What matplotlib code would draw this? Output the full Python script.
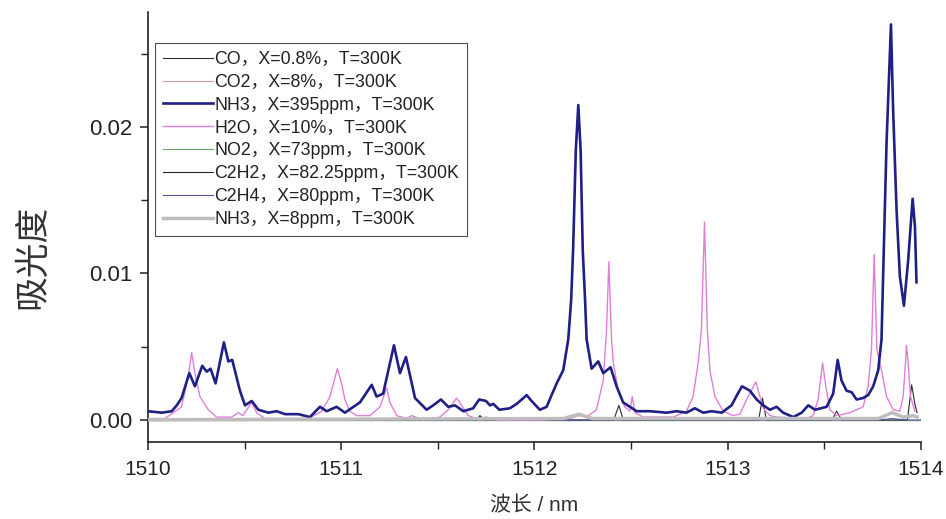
import matplotlib
matplotlib.use('Agg')
import matplotlib.pyplot as plt
from matplotlib.ticker import MultipleLocator

plt.rcParams['font.family'] = ['Liberation Sans', 'Noto Sans CJK SC']

labels = ['CO，X=0.8%，T=300K', 'CO2，X=8%，T=300K', 'NH3，X=395ppm，T=300K',
          'H2O，X=10%，T=300K', 'NO2，X=73ppm，T=300K', 'C2H2，X=82.25ppm，T=300K',
          'C2H4，X=80ppm，T=300K', 'NH3，X=8ppm，T=300K']

# near-zero gases
co_x = [1510.0, 1514.0]
co_y = [0.0, 0.0]
co2_x = [1510.0, 1514.0]
co2_y = [0.0, 0.0]
no2_x = [1510.0, 1514.0]
no2_y = [0.0, 0.0]

nh3_x = [1510.00, 1510.071, 1510.123, 1510.149, 1510.174, 1510.214, 1510.243, 1510.281,
         1510.304, 1510.324, 1510.350, 1510.393, 1510.416, 1510.436, 1510.476, 1510.502,
         1510.537, 1510.571, 1510.623, 1510.666, 1510.709, 1510.778, 1510.838, 1510.890,
         1510.925, 1510.976, 1511.019, 1511.097, 1511.158, 1511.183, 1511.217, 1511.273,
         1511.304, 1511.335, 1511.382, 1511.442, 1511.476, 1511.516, 1511.554, 1511.589,
         1511.632, 1511.683, 1511.714, 1511.749, 1511.770, 1511.787, 1511.818, 1511.873,
         1511.908, 1511.960, 1511.985, 1512.028, 1512.063, 1512.115, 1512.149, 1512.175,
         1512.190, 1512.200, 1512.214, 1512.227, 1512.239, 1512.250, 1512.262, 1512.270,
         1512.296, 1512.330,
         1512.356, 1512.394, 1512.425, 1512.459, 1512.494, 1512.529, 1512.598, 1512.684,
         1512.736, 1512.787, 1512.830, 1512.874, 1512.917, 1512.969, 1513.020, 1513.048,
         1513.074, 1513.115, 1513.150, 1513.184, 1513.219, 1513.253, 1513.287, 1513.339,
         1513.383, 1513.417, 1513.452, 1513.512, 1513.546, 1513.569, 1513.589, 1513.615,
         1513.641, 1513.667, 1513.701, 1513.727, 1513.753, 1513.779, 1513.796, 1513.813,
         1513.822, 1513.845, 1513.856, 1513.874, 1513.891, 1513.912, 1513.934, 1513.957,
         1513.969, 1513.977]
nh3_y = [0.0006, 0.0005, 0.0006, 0.0010, 0.0015, 0.0032, 0.0023, 0.0037,
         0.0033, 0.0035, 0.0025, 0.0053, 0.0040, 0.0041, 0.0020, 0.0010,
         0.0013, 0.0007, 0.0005, 0.0006, 0.0004, 0.0004, 0.0002, 0.0009,
         0.0006, 0.0009, 0.0005, 0.0012, 0.0024, 0.0016, 0.0018, 0.0051,
         0.0032, 0.0043, 0.0015, 0.0007, 0.0010, 0.0014, 0.0009, 0.0010,
         0.0006, 0.0008, 0.0014, 0.0013, 0.0010, 0.0011, 0.0007, 0.0008,
         0.0011, 0.0017, 0.0013, 0.0007, 0.0009, 0.0025, 0.0034, 0.0055,
         0.0082, 0.0116, 0.0184, 0.0215, 0.0184, 0.0116, 0.0082, 0.0055,
         0.0035, 0.0040,
         0.0032, 0.0036, 0.0023, 0.0012, 0.0009, 0.0006, 0.0006, 0.0005,
         0.0006, 0.0005, 0.0008, 0.0005, 0.0006, 0.0005, 0.0010, 0.0017,
         0.0023, 0.0020, 0.0014, 0.0010, 0.0007, 0.0009, 0.0005, 0.0002,
         0.0005, 0.0010, 0.0007, 0.0009, 0.0018, 0.0041, 0.0027, 0.0020,
         0.0019, 0.0014, 0.0015, 0.0017, 0.0023, 0.0034, 0.0055, 0.0143,
         0.0189, 0.0270, 0.0212, 0.0143, 0.0098, 0.0078, 0.0109, 0.0151,
         0.0132, 0.0094]

h2o_x = [1510.000, 1510.088, 1510.174, 1510.209, 1510.226, 1510.243, 1510.269, 1510.312,
         1510.355, 1510.433, 1510.467, 1510.491, 1510.537, 1510.562, 1510.605, 1510.830,
         1510.899, 1510.942, 1510.980, 1511.002, 1511.019, 1511.045, 1511.080, 1511.149,
         1511.201, 1511.235, 1511.252, 1511.287, 1511.339, 1511.365, 1511.424, 1511.511,
         1511.554, 1511.597, 1511.623, 1511.657, 1511.700, 1511.752, 1511.804, 1512.028,
         1512.184, 1512.227, 1512.270, 1512.321, 1512.356, 1512.373, 1512.385, 1512.399,
         1512.408, 1512.434, 1512.468, 1512.494, 1512.506, 1512.520, 1512.563, 1512.718,
         1512.787, 1512.821, 1512.847, 1512.864, 1512.880, 1512.895, 1512.908, 1512.934,
         1512.977, 1513.028, 1513.063, 1513.098, 1513.146, 1513.167, 1513.184, 1513.219,
         1513.253, 1513.408, 1513.442, 1513.468, 1513.491, 1513.508, 1513.529, 1513.564,
         1513.633, 1513.701, 1513.727, 1513.744, 1513.758, 1513.772, 1513.796, 1513.822,
         1513.856, 1513.891, 1513.908, 1513.920, 1513.925, 1513.934, 1513.946, 1513.969]
h2o_y = [0.0001, 0.0001, 0.0009, 0.0030, 0.0046, 0.0032, 0.0016, 0.0007,
         0.0002, 0.0002, 0.0005, 0.0003, 0.0012, 0.0005, 0.0001, 0.0001,
         0.0006, 0.0016, 0.0035, 0.0025, 0.0014, 0.0006, 0.0003, 0.0003,
         0.0009, 0.0022, 0.0012, 0.0003, 0.0001, 0.0003, 0.0000, 0.0002,
         0.0007, 0.0015, 0.0010, 0.0003, 0.0001, 0.0002, 0.0000, 0.0000,
         0.0001, 0.0003, 0.0002, 0.0007, 0.0027, 0.0061, 0.0108, 0.0055,
         0.0039, 0.0020, 0.0009, 0.0006, 0.0016, 0.0005, 0.0002, 0.0002,
         0.0006, 0.0016, 0.0039, 0.0061, 0.0135, 0.0061, 0.0034, 0.0016,
         0.0006, 0.0003, 0.0004, 0.0014, 0.0026, 0.0016, 0.0008, 0.0003,
         0.0002, 0.0001, 0.0003, 0.0014, 0.0039, 0.0023, 0.0007, 0.0003,
         0.0005, 0.0009, 0.0023, 0.0048, 0.0113, 0.0048, 0.0034, 0.0016,
         0.0007, 0.0006, 0.0016, 0.0039, 0.0051, 0.0039, 0.0016, 0.0006]

c2h2_x = [1510.0, 1511.70, 1511.718, 1511.74, 1512.41, 1512.437, 1512.46, 1513.16,
          1513.18, 1513.20, 1513.54, 1513.564, 1513.59, 1513.93, 1513.952, 1513.97, 1513.98]
c2h2_y = [0.0, 0.0, 0.0003, 0.0, 0.0, 0.0010, 0.0, 0.0,
          0.0015, 0.0, 0.0, 0.0006, 0.0, 0.0, 0.0024, 0.0010, 0.0005]

c2h4_x = [1510.0, 1513.78, 1513.85, 1513.93, 1514.0]
c2h4_y = [0.0, 0.0, 0.0001, 0.0, 0.0]

nh3_low_x = [1510.0, 1512.15, 1512.23, 1512.30, 1513.78, 1513.85, 1513.91, 1513.96, 1513.98]
nh3_low_y = [0.00002, 0.0001, 0.0004, 0.0001, 0.0001, 0.0005, 0.0002, 0.0003, 0.0002]

fig = plt.figure(figsize=(9.46, 5.19), dpi=100)
ax = fig.add_axes([0.1564, 0.1484, 0.8171, 0.8285])

ax.plot(co_x, co_y, color='#303030', lw=0.8, label=labels[0], zorder=2)
ax.plot(co2_x, co2_y, color='#c89a98', lw=0.8, label=labels[1], zorder=2)
ax.plot(nh3_x, nh3_y, color='#1f1f85', lw=1.9, label=labels[2], zorder=5)
ax.plot(h2o_x, h2o_y, color='#e07ed8', lw=1.0, label=labels[3], zorder=4)
ax.plot(no2_x, no2_y, color='#6aa86a', lw=0.8, label=labels[4], zorder=2)
ax.plot(c2h2_x, c2h2_y, color='#2a2a2a', lw=0.8, label=labels[5], zorder=3)
ax.plot(c2h4_x, c2h4_y, color='#5555a8', lw=0.8, label=labels[6], zorder=3)
ax.plot(nh3_low_x, nh3_low_y, color='#bdbdbd', lw=2.5, label=labels[7], zorder=6)

ax.set_xlim(1510, 1514)
ax.set_ylim(-0.0015, 0.02785)
ax.xaxis.set_major_locator(MultipleLocator(1))
ax.xaxis.set_minor_locator(MultipleLocator(0.5))
ax.yaxis.set_major_locator(MultipleLocator(0.01))
ax.yaxis.set_minor_locator(MultipleLocator(0.005))
ax.yaxis.set_major_formatter(plt.FormatStrFormatter('%.2f'))

ax.spines['top'].set_visible(False)
ax.spines['right'].set_visible(False)
for s in ['left', 'bottom']:
    ax.spines[s].set_linewidth(1.2)
    ax.spines[s].set_color('#222222')
ax.tick_params(which='major', direction='out', length=6, width=1.1, labelsize=15,
               colors='#222222')
ax.tick_params(axis='x', which='major', pad=7)
ax.tick_params(axis='y', which='major', labelsize=16, pad=5)
ax.tick_params(which='minor', direction='out', length=5, width=1.0, colors='#222222')

ax.set_xlabel('波长 / nm', fontsize=15, color='#333333')
ax.xaxis.set_label_coords(0.5, -0.125)
ax.set_ylabel('吸光度', fontsize=25, color='#333333')
ax.yaxis.set_label_coords(-0.128, 0.43)

leg = ax.legend(loc='upper left', bbox_to_anchor=(0.009, 0.928), borderaxespad=0,
                fontsize=12.8, handlelength=2.8, handletextpad=0.1, labelspacing=0.33,
                frameon=True, fancybox=False, borderpad=0.45)
leg.get_frame().set_edgecolor('#222222')
leg.get_frame().set_linewidth(0.8)
for t in leg.get_texts():
    t.set_color('#222222')

fig.savefig('out.png', dpi=100)
